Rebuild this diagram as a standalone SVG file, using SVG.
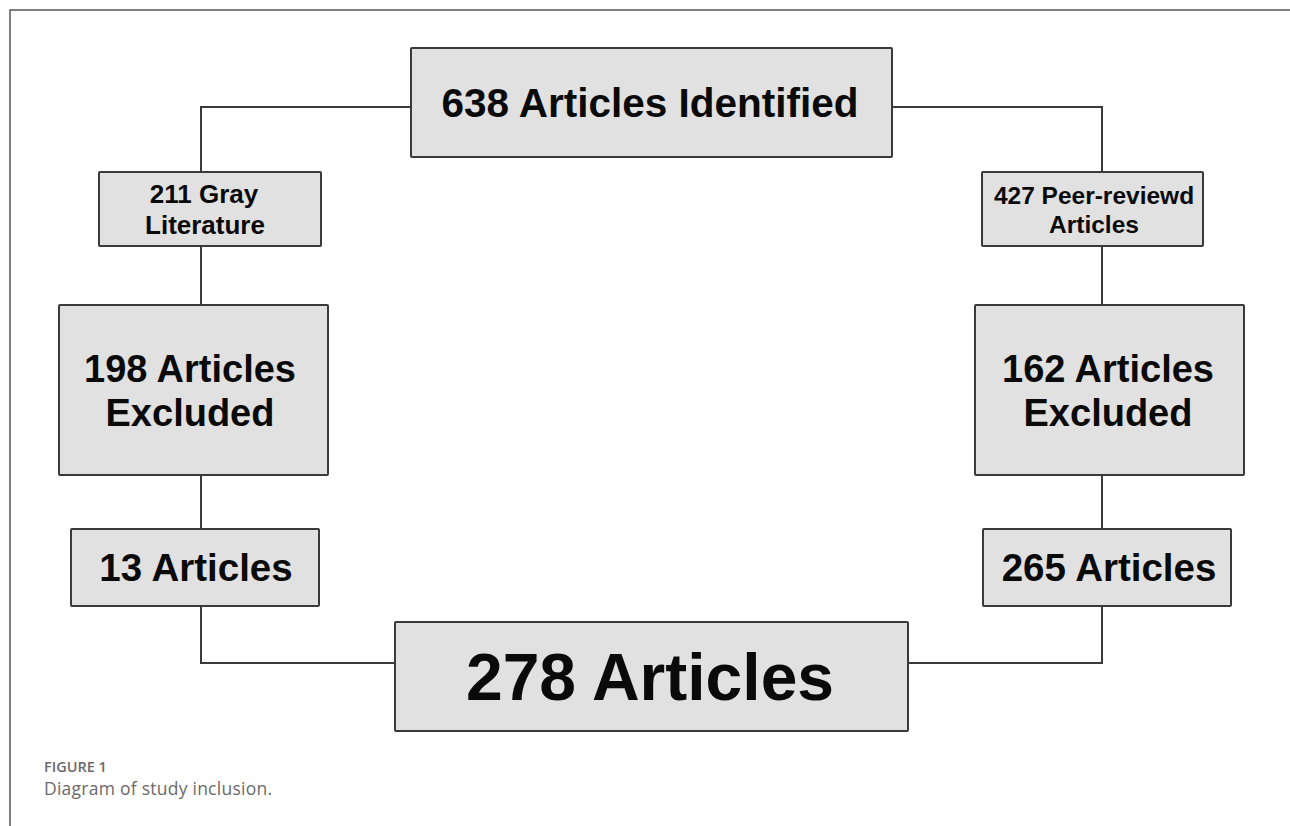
<svg xmlns="http://www.w3.org/2000/svg" width="1290" height="826" viewBox="0 0 1290 826">
<style>
.box{fill:#e1e1e1;stroke:#3a3a3a;stroke-width:2}
.t{font-family:"Liberation Sans",Arial,sans-serif;font-weight:bold;fill:#0a0a0a;text-anchor:middle}
.conn{fill:none;stroke:#3a3a3a;stroke-width:2}
.frame{fill:none;stroke:#555;stroke-width:1.5}
.cap1{font-family:"Open Sans","Liberation Sans",sans-serif;font-weight:600;font-size:14.5px;fill:#6a6a6a}
.cap2{font-family:"Open Sans","Liberation Sans",sans-serif;font-size:17.5px;fill:#6a6a6a}
</style>
<rect width="1290" height="826" fill="#fff"/>
<path class="frame" d="M10,826 V10 H1290"/>
<g id="connectors">
<path class="conn" d="M411,107 H201 V172"/>
<path class="conn" d="M892,107 H1102 V172"/>
<path class="conn" d="M201,246 V305"/>
<path class="conn" d="M201,475 V529"/>
<path class="conn" d="M201,606 V663 H395"/>
<path class="conn" d="M1102,246 V305"/>
<path class="conn" d="M1102,475 V529"/>
<path class="conn" d="M1102,606 V663 H908"/>
</g>
<g id="n638">
<rect class="box" x="411" y="48" width="481" height="109" rx="1"/>
<text class="t" x="650" y="117" font-size="40.5">638 Articles Identified</text>
</g>
<g id="n211">
<rect class="box" x="99" y="172" width="222" height="74" rx="1"/>
<text class="t" x="204" y="203" font-size="26">211 Gray</text>
<text class="t" x="205" y="234" font-size="26">Literature</text>
</g>
<g id="n427">
<rect class="box" x="982" y="172" width="221" height="74" rx="1"/>
<text class="t" x="1094" y="204" font-size="24.5">427 Peer-reviewd</text>
<text class="t" x="1094" y="233" font-size="24.5">Articles</text>
</g>
<g id="n198">
<rect class="box" x="59" y="305" width="269" height="170" rx="1"/>
<text class="t" x="190" y="382" font-size="38">198 Articles</text>
<text class="t" x="190" y="426" font-size="38">Excluded</text>
</g>
<g id="n162">
<rect class="box" x="975" y="305" width="269" height="170" rx="1"/>
<text class="t" x="1108" y="382" font-size="38">162 Articles</text>
<text class="t" x="1108" y="426" font-size="38">Excluded</text>
</g>
<g id="n13">
<rect class="box" x="71" y="529" width="248" height="77" rx="1"/>
<text class="t" x="196" y="581" font-size="38.5">13 Articles</text>
</g>
<g id="n265">
<rect class="box" x="983" y="529" width="248" height="77" rx="1"/>
<text class="t" x="1109" y="581" font-size="38.5">265 Articles</text>
</g>
<g id="n278">
<rect class="box" x="395" y="622" width="513" height="109" rx="1"/>
<text class="t" x="650" y="700" font-size="66">278 Articles</text>
</g>
<text class="cap1" x="44" y="772">FIGURE 1</text>
<text class="cap2" x="44" y="795" textLength="228" lengthAdjust="spacing">Diagram of study inclusion.</text>
</svg>
